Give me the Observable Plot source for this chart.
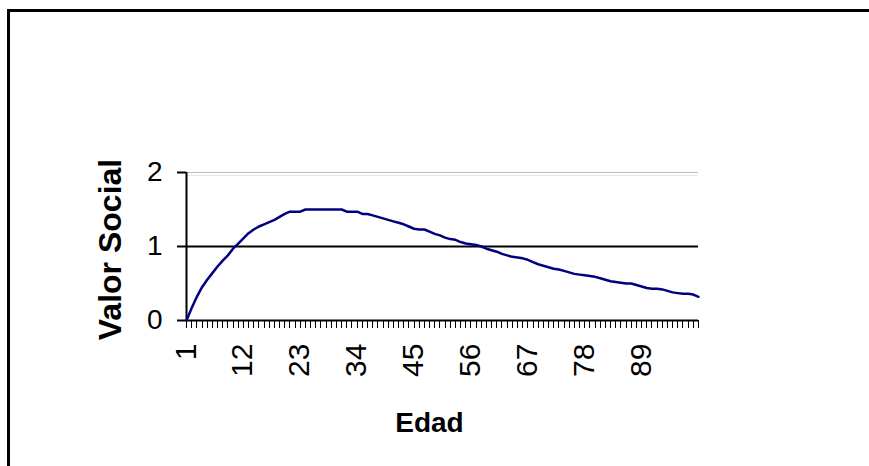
<!DOCTYPE html>
<html>
<head>
<meta charset="utf-8">
<script src="https://cdn.jsdelivr.net/npm/d3@7"></script>
<script src="https://cdn.jsdelivr.net/npm/@observablehq/plot@0.6"></script>
<style>
  html, body { margin: 0; padding: 0; background: #fff; }
  #wrap { position: relative; width: 869px; height: 466px; overflow: hidden; font-family: "Liberation Sans", Arial, sans-serif; }
  #border { position: absolute; left: 7px; top: 9px; width: 900px; height: 500px; border-left: 3px solid #000; border-top: 3px solid #000; }
  #chart { position: absolute; left: 0; top: 0; }
</style>
</head>
<body>
<div id="wrap"><div id="border"></div><div id="chart"></div></div>
<script>
const ages = d3.range(1, 101);
const values = [
  0.00, 0.17, 0.32, 0.45, 0.55, 0.64, 0.73, 0.81, 0.88, 0.97,
  1.04, 1.11, 1.18, 1.23, 1.27, 1.30, 1.33, 1.36, 1.40, 1.44,
  1.47, 1.47, 1.47, 1.50, 1.50, 1.50, 1.50, 1.50, 1.50, 1.50,
  1.50, 1.47, 1.47, 1.47, 1.44, 1.44, 1.42, 1.40, 1.38, 1.36,
  1.34, 1.32, 1.30, 1.27, 1.24, 1.23, 1.23, 1.20, 1.17, 1.15,
  1.12, 1.10, 1.09, 1.06, 1.04, 1.03, 1.02, 1.00, 0.97, 0.95,
  0.93, 0.90, 0.88, 0.86, 0.85, 0.84, 0.82, 0.79, 0.76, 0.74,
  0.72, 0.70, 0.69, 0.67, 0.65, 0.63, 0.62, 0.61, 0.60, 0.59,
  0.57, 0.55, 0.53, 0.52, 0.51, 0.50, 0.50, 0.48, 0.46, 0.44,
  0.43, 0.43, 0.42, 0.40, 0.38, 0.37, 0.36, 0.36, 0.35, 0.32
];
const xTickLabels = [1, 12, 23, 34, 45, 56, 67, 78, 89];
const yTicks = [0, 1, 2];
const referenceValue = 1;
const xTitle = "Edad";
const yTitle = "Valor Social";

const data = ages.map((a, i) => ({age: a, value: values[i]}));
const font = "Liberation Sans, Arial, sans-serif";

const chart = Plot.plot({
  width: 869,
  height: 466,
  marginLeft: 186,
  marginRight: 171,
  marginTop: 172,
  marginBottom: 146,
  style: {fontFamily: font, background: "transparent", overflow: "visible"},
  x: {type: "linear", domain: [1, 100]},
  y: {domain: [0, 2]},
  marks: [
    Plot.ruleY([2], {stroke: "#bdbdbd", strokeWidth: 1}),
    Plot.ruleY([2], {stroke: "#e8e8e8", strokeWidth: 1, dy: 3}),
    Plot.ruleY([referenceValue], {stroke: "#000", strokeWidth: 2}),
    Plot.axisX({ticks: ages, tickSize: 8, tickFormat: () => "", label: null, stroke: "#000", strokeWidth: 1, shapeRendering: "crispEdges"}),
    Plot.text(xTickLabels, {x: d => d, frameAnchor: "bottom", dx: 9, dy: 23, rotate: -90, textAnchor: "end", text: d => String(d), fontSize: 30, fill: "#000"}),
    Plot.axisY({ticks: yTicks, tickSize: 9, tickPadding: 15, tickFormat: d => String(d), fontSize: 28, label: null, stroke: "#000", strokeWidth: 2, fill: "#000"}),
    Plot.ruleX([1], {stroke: "#000", strokeWidth: 2}),
    Plot.ruleY([0], {stroke: "#000", strokeWidth: 2}),
    Plot.line(data, {x: "age", y: "value", stroke: "#000080", strokeWidth: 2.5}),
    Plot.text([yTitle], {frameAnchor: "left", textAnchor: "middle", dx: -76, dy: 3, rotate: -90, fontWeight: "bold", fontSize: 32, fill: "#000"}),
    Plot.text([xTitle], {frameAnchor: "bottom", dx: -13, dy: 111, fontWeight: "bold", fontSize: 28, fill: "#000"})
  ]
});
document.getElementById("chart").appendChild(chart);
</script>
</body>
</html>
